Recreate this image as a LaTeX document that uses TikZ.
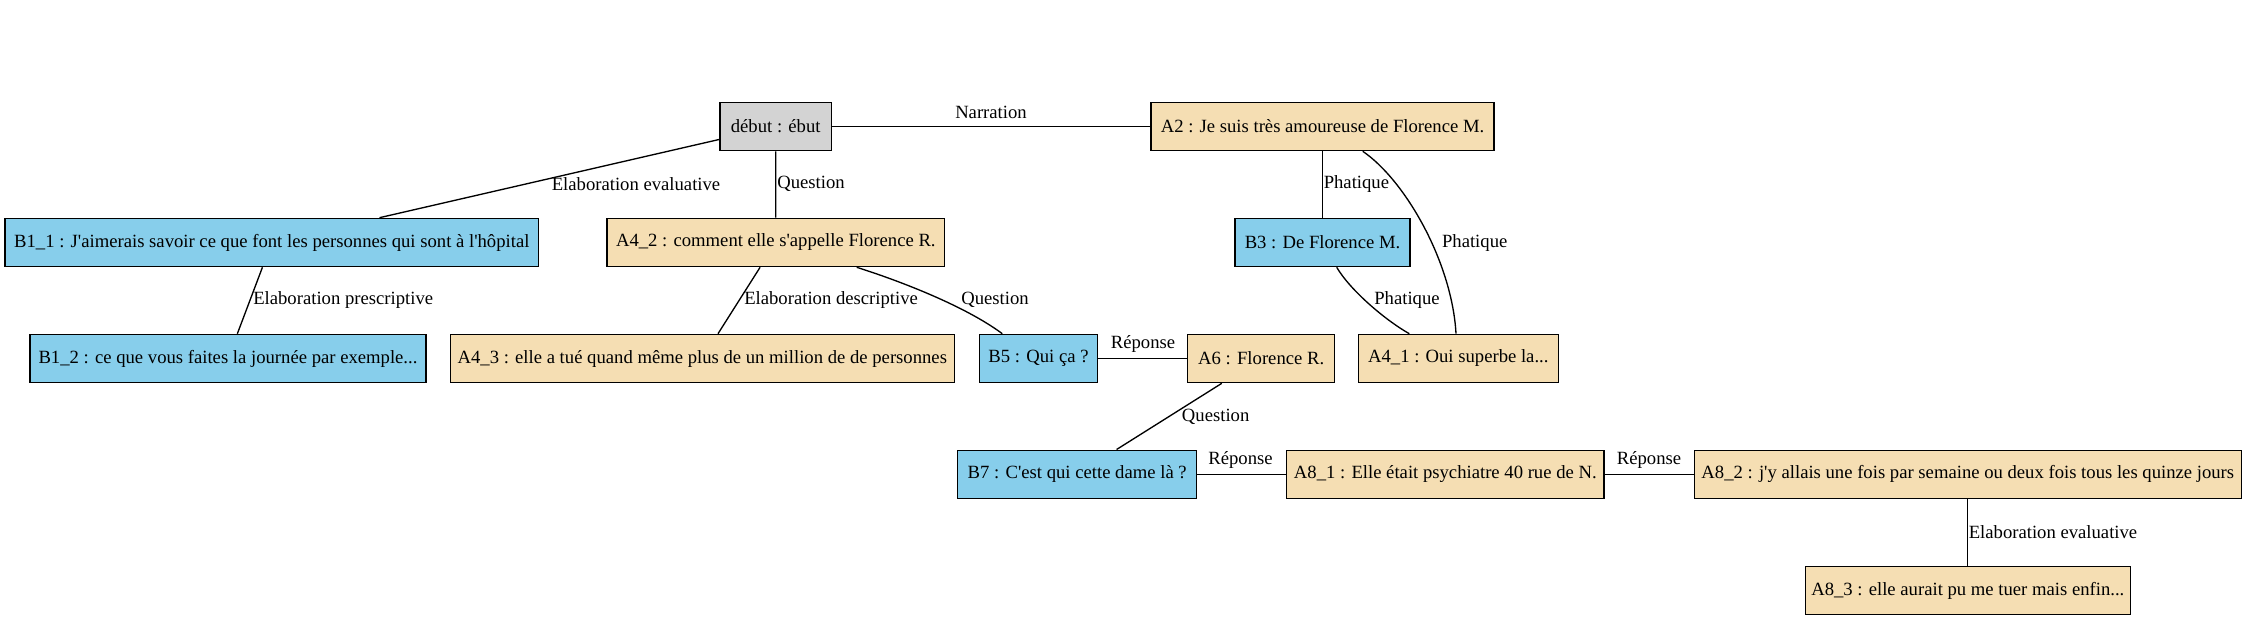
\documentclass[tikz,border=0pt]{standalone}
\usepackage{fontspec}
\setmainfont{Liberation Serif}[Ligatures=TeXOff]
\usetikzlibrary{calc}
\definecolor{gvgray}{HTML}{D3D3D3}
\definecolor{gvwheat}{HTML}{F5DEB3}
\definecolor{gvsky}{HTML}{87CEEB}
\begin{document}
\begin{tikzpicture}[x=0.75pt,y=-0.75pt,
  box/.style={draw=black, line width=1pt, inner sep=0pt, minimum height=36.2pt,
    font=\fontsize{14}{16}\selectfont, anchor=center},
  bw/.style={minimum width=#1*0.75pt},
  graybox/.style={box, fill=gvgray},
  wheatbox/.style={box, fill=gvwheat},
  skybox/.style={box, fill=gvsky},
  lbl/.style={font=\fontsize{14}{16}\selectfont, inner sep=0pt},
  link/.style={line width=1pt, draw=black}]
\useasboundingbox (0,0) rectangle (2247,620);
% nodes
\node[graybox, bw=111.3] (debut) at (775.7,126.5) {début : ébut};
\node[wheatbox, bw=343] (A2) at (1322.5,126.5) {A2 : Je suis très amoureuse de Florence M.};
\node[skybox, bw=533.6] (B11) at (271.8,242.5) {B1\_1 : J'aimerais savoir ce que font les personnes qui sont à l'hôpital};
\node[wheatbox, bw=337.7] (A42) at (775.8,242.5) {A4\_2 : comment elle s'appelle Florence R.};
\node[skybox, bw=175] (B3) at (1322.5,242.5) {B3 : De Florence M.};
\node[skybox, bw=396] (B12) at (228,358.5) {B1\_2 : ce que vous faites la journée par exemple...};
\node[wheatbox, bw=504] (A43) at (702.3,358.5) {A4\_3 : elle a tué quand même plus de un million de de personnes};
\node[skybox, bw=118.4] (B5) at (1038.5,358.5) {B5 : Qui ça ?};
\node[wheatbox, bw=147] (A6) at (1261.2,358.5) {A6 : Florence R.};
\node[wheatbox, bw=200] (A41) at (1458.3,358.5) {A4\_1 : Oui superbe la...};
\node[skybox, bw=239] (B7) at (1077.2,474.3) {B7 : C'est qui cette dame là ?};
\node[wheatbox, bw=317.3] (A81) at (1445.3,474.3) {A8\_1 : Elle était psychiatre 40 rue de N.};
\node[wheatbox, bw=547] (A82) at (1967.8,474.3) {A8\_2 : j'y allais une fois par semaine ou deux fois tous les quinze jours};
\node[wheatbox, bw=325] (A83) at (1967.8,590.5) {A8\_3 : elle aurait pu me tuer mais enfin...};
% edges
\draw[link] (debut) -- (A2);
\node[lbl] (lNarr) at (991,112.7) {Narration};
\draw[link] (debut) -- (B11);
\node[lbl] (lEE1) at (636,184) {Elaboration evaluative};
\draw[link] (debut) -- (A42);
\node[lbl, anchor=west] (lQ1) at (777,184) {Question};
\draw[link] (B11) -- (B12);
\node[lbl, anchor=west] (lEP) at (253,300) {Elaboration prescriptive};
\draw[link] (A42) -- (A43);
\node[lbl, anchor=west] (lED) at (744,300) {Elaboration descriptive};
\draw[link] ($(A42.south)+(80.9,0)$) .. controls (900,281) and (965,306) .. ($(B5.north)+(-36.2,0)$);
\node[lbl] (lQ2) at (995,300) {Question};
\draw[link] (A2) -- (B3);
\node[lbl, anchor=west] (lP1) at (1323.5,184) {Phatique};
\draw[link] ($(A2.south)+(40.2,0)$) .. controls (1405,180) and (1452,262) .. ($(A41.north)+(-2.3,0)$);
\node[lbl] (lP2) at (1474.7,242.7) {Phatique};
\draw[link] ($(B3.south)+(14.2,0)$) .. controls (1350,290) and (1385,320) .. ($(A41.north)+(-49,0)$);
\node[lbl] (lP3) at (1407,300) {Phatique};
\draw[link] (B5) -- (A6);
\node[lbl] (lR1) at (1143,344.3) {Réponse};
\draw[link] (A6) -- (B7);
\node[lbl, anchor=west] (lQ3) at (1181.7,416.7) {Question};
\draw[link] (B7) -- (A81);
\node[lbl] (lR2) at (1240.5,460) {Réponse};
\draw[link] (A81) -- (A82);
\node[lbl] (lR3) at (1649,460) {Réponse};
\draw[link] (A82) -- (A83);
\node[lbl, anchor=west] (lEE2) at (1968.5,532.3) {Elaboration evaluative};
\end{tikzpicture}
\end{document}
